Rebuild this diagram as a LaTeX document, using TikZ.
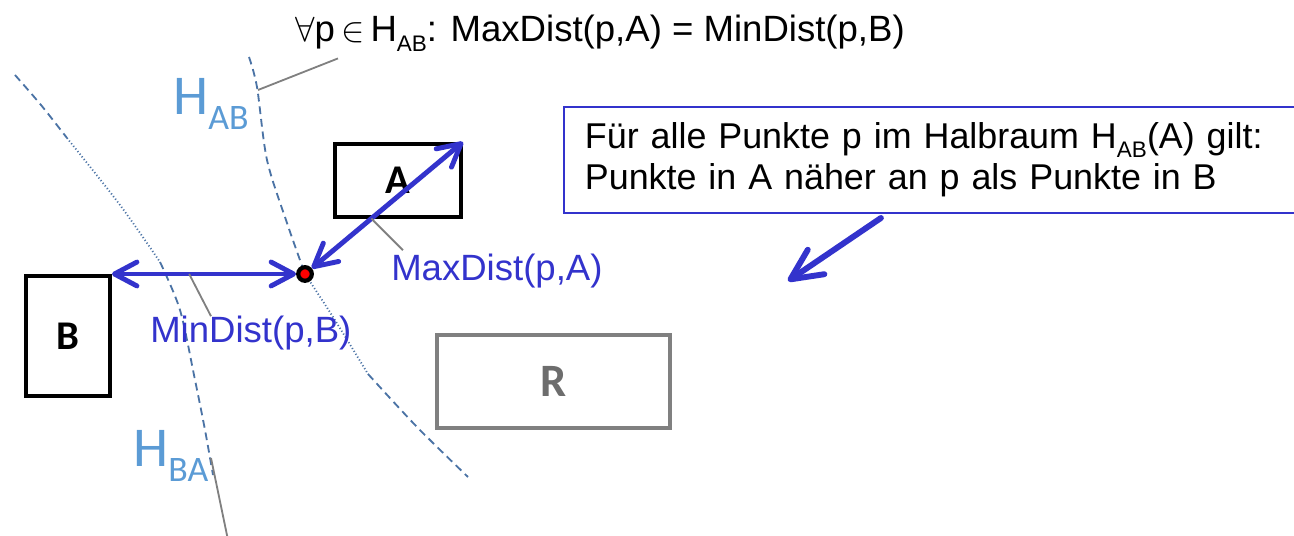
\documentclass[tikz,border=0pt]{standalone}
\usepackage{fontspec}
\setmainfont{Liberation Sans}
\newfontfamily\boxfont{Carlito}
\usetikzlibrary{arrows.meta, positioning, calc}
\definecolor{distblue}{RGB}{51,51,204}
\definecolor{planecolor}{RGB}{75,115,165}
\definecolor{hlabelcolor}{RGB}{91,155,213}
\definecolor{leadergray}{RGB}{128,128,128}
\newcommand{\subtxt}[1]{\raisebox{-0.25em}{\fontsize{16}{16}\selectfont #1}}
\newcommand{\hname}[1]{{\fontsize{40}{40}\selectfont H}\raisebox{-10.5pt}{\fontsize{25.5}{25.5}\selectfont #1}}

\begin{document}
\begin{tikzpicture}[
    x=0.025cm, y=-0.025cm,
    mbr/.style={draw, line width=2.8pt, inner sep=0, font=\boxfont\fontsize{29}{29}\selectfont\bfseries},
    lbl/.style={inner sep=0, font=\fontsize{26}{28.5}\selectfont},
    hlabel/.style={inner sep=0, text=hlabelcolor, font=\boxfont},
    notebox/.style={draw=distblue, line width=1.4pt, align=left, font=\fontsize{25.5}{29}\selectfont},
    dist/.style={{Straight Barb[length=16pt, width=17pt, round]}-{Straight Barb[length=16pt, width=17pt, round]}, draw=distblue, line width=3.5pt},
    hint/.style={-{Straight Barb[length=22pt, width=21pt, round]}, draw=distblue, line width=4.2pt, line cap=round},
    leader/.style={draw=leadergray, line width=1.3pt},
    planedash/.style={draw=planecolor, line width=1.3pt, dash pattern=on 5.5pt off 3.5pt},
    planedot/.style={draw=planecolor, line width=1.3pt, dash pattern=on 0.8pt off 1.6pt}
]
    \useasboundingbox (0,0) rectangle (1294,536);

    % bounding rectangles
    \node[mbr, minimum width=3.15cm, minimum height=1.825cm] (A) at (398,180.5) {A};
    \node[mbr, minimum width=2.1cm, minimum height=3cm] (B) at (68,336) {B};
    \node[mbr, draw=leadergray, text=leadergray!85!black, minimum width=5.825cm, minimum height=2.325cm,
          font=\boxfont\fontsize{33}{33}\selectfont\bfseries] (R) at (553.5,381.5) {R};

    % half-space borders
    \draw[planedash] plot[smooth] coordinates {(249,57) (257,87) (267,160) (287,223) (305,274)};
    \draw[planedot] plot[smooth] coordinates {(305,274) (333,317) (368,374)};
    \draw[planedash] plot[smooth] coordinates {(368,374) (417,427) (468,477)};
    \draw[planedash] plot[smooth] coordinates {(15,75) (41,105) (67,138)};
    \draw[planedot] plot[smooth] coordinates {(67,138) (120,205) (160,262)};
    \draw[planedash] plot[smooth] coordinates {(160,262) (180,310) (195,380) (205,430) (213,475)};

    \node[hlabel, anchor=base west] (hAB) at (173,115) {\hname{AB}};
    \node[hlabel, anchor=base west] (hBA) at (133,467) {\hname{BA}};

    % query point
    \node[circle, draw=black, fill=red, line width=3pt, inner sep=0, minimum size=0.34cm] (p) at (305,274) {};

    % distances
    \draw[dist] (p) -- (p -| B.east);
    \draw[dist] (p) -- (A.north east);

    \node[lbl, text=distblue, anchor=base west] (maxlbl) at (391,281) {MaxDist(p,A)};
    \node[lbl, text=distblue, anchor=base west] (minlbl) at (150,343) {MinDist(p,B)};

    % formula on top
    \node[lbl, anchor=base west] (title) at (295,42)
        {$\forall$p\,$\in$\,H\subtxt{AB}: MaxDist(p,A) = MinDist(p,B)};

    % leader lines
    \coordinate (habmark) at (258,90);
    \coordinate (hbamark) at (211,458);
    \coordinate (hbafoot) at (228,540);
    \draw[leader] (habmark) -- ($(title.south west)+(43,7)$);
    \draw[leader] ($(p)!0.42!(A.north east)$) -- ($(maxlbl.north west)+(12,-4)$);
    \draw[leader] ($(p)!0.6!(p -| B.east)$) -- ($(minlbl.north west)+(61,0)$);
    \draw[leader] (hbamark) -- (hbafoot);

    % explanation
    \node[notebox, minimum width=18.65cm, minimum height=2.65cm, text width=17.6cm] (note) at (937,160)
        {Für alle Punkte p im Halbraum H\subtxt{AB}(A) gilt:\\Punkte in A näher an p als Punkte in B};
    \coordinate (aim) at (788,281);
    \draw[hint] ($(note.south west)+(318,4)$) -- (aim);
\end{tikzpicture}
\end{document}
